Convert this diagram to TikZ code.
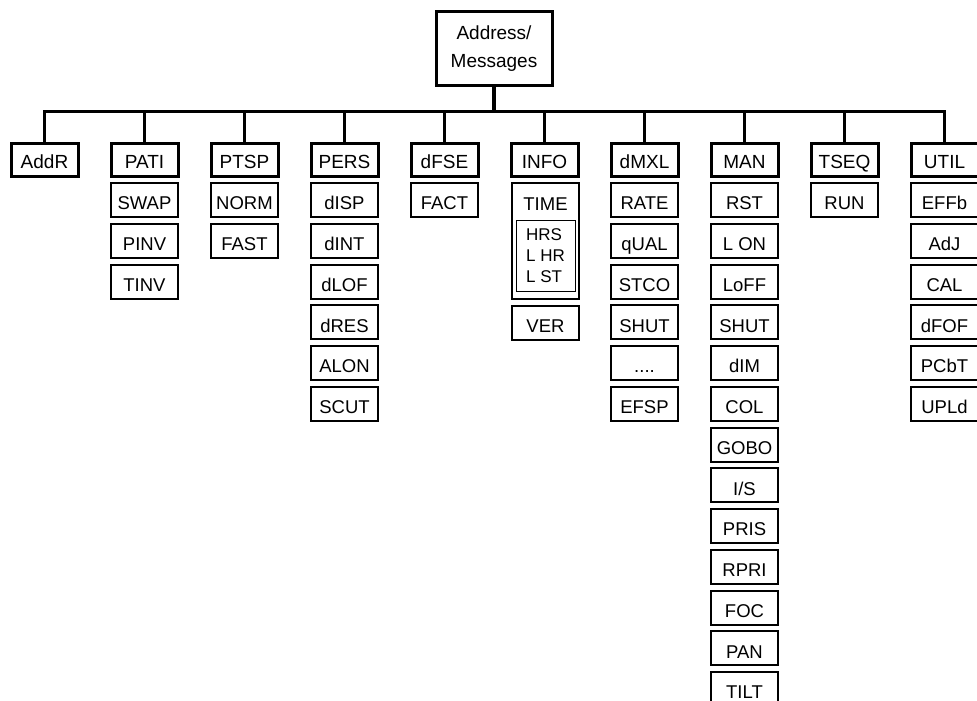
\documentclass[tikz,border=0pt]{standalone}
\usepackage{fontspec}
\setmainfont{Liberation Sans}
\usetikzlibrary{positioning}

\newcommand{\mxdots}{....}
\tikzset{
  menubox/.style={draw, line width=3pt, minimum width=67pt, minimum height=33pt, inner sep=0pt, text height=17pt, text depth=0pt, font=\fontsize{19}{23}\selectfont},
  itembox/.style={draw, line width=2pt, minimum width=67pt, minimum height=34pt, inner sep=0pt, text height=19.5pt, text depth=0pt, font=\fontsize{18.5}{22}\selectfont},
  branch/.style={line width=3.3pt}
}

\begin{document}
\begin{tikzpicture}[x=1pt, y=-1pt]
        \useasboundingbox (0,0) rectangle (977,701);
        \clip (0,0) rectangle (977,701);
        \node[draw, line width=3pt, minimum width=116pt, minimum height=73pt, inner sep=0pt, align=center, font=\fontsize{19}{28}\selectfont] (root) at (494,48.5) {Address/\\Messages};

        \foreach \nm/\lbl [count=\k from 0] in {addr/AddR, pati/PATI, ptsp/PTSP, pers/PERS, dfse/dFSE, info/INFO, dmxl/dMXL, man/MAN, tseq/TSEQ, util/UTIL} {
            \node[menubox] (\nm) at (44.5+100*\k, 159.5) {\lbl};
            \draw[branch] (root.south) -- ++(0,25) -| (\nm.north);
        }

        \foreach \col/\x/\items in {pati/144.5/{SWAP,PINV,TINV}, ptsp/244.5/{NORM,FAST}, pers/344.5/{dISP,dINT,dLOF,dRES,ALON,SCUT}, dfse/444.5/{FACT}, dmxl/644.5/{RATE,qUAL,STCO,SHUT,\mxdots,EFSP}, man/744.5/{RST,L ON,LoFF,SHUT,dIM,COL,GOBO,{I/S},PRIS,RPRI,FOC,PAN,TILT}, tseq/844.5/{RUN}, util/944.5/{EFFb,AdJ,CAL,dFOF,PCbT,UPLd}} {
            \foreach \lbl [count=\i] in \items
                \node[itembox] (\col-\i) at (\x, 159.25+40.75*\i) {\lbl};
        }

        \node[itembox, minimum height=116pt] (time) at (545.5,241) {};
        \node[font=\fontsize{18.5}{22}\selectfont, inner sep=0pt, anchor=base] (timetxt) at (545.5,210) {TIME};
        \node[draw, line width=1pt, minimum width=59pt, minimum height=71pt, inner sep=0pt, align=left, font=\fontsize{17}{21}\selectfont, below=38pt of time.north] (hours) {HRS\\L HR\\L ST};
        \node[itembox] (ver) at (545.5,322.5) {VER};
\end{tikzpicture}
\end{document}
